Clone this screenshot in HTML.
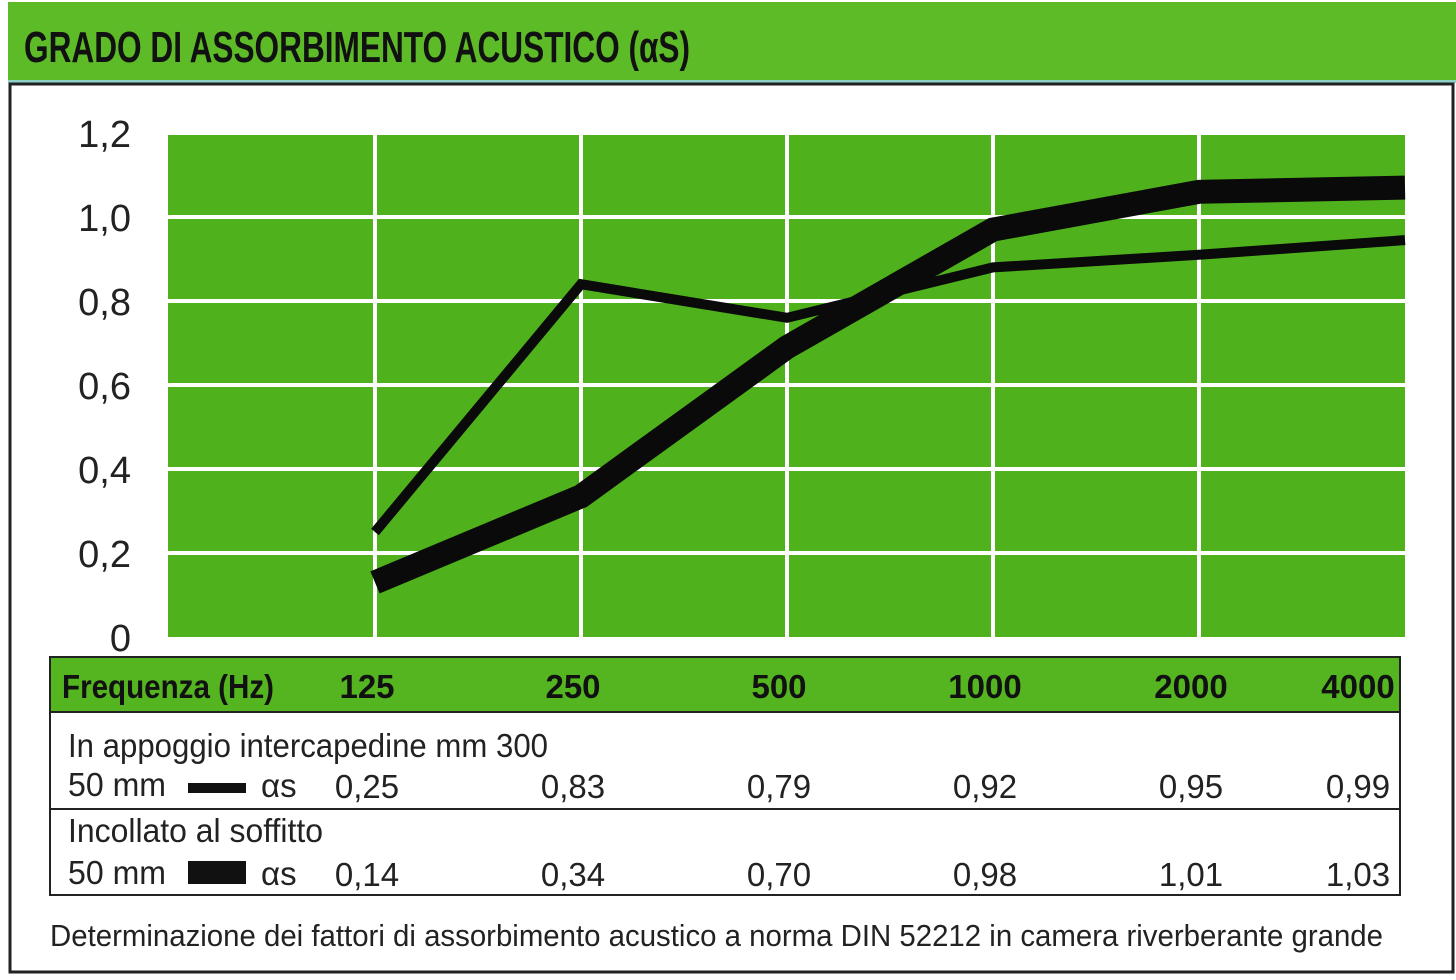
<!DOCTYPE html>
<html><head><meta charset="utf-8"><style>
html,body{margin:0;padding:0;background:#fff;}
svg{display:block;}
text{font-family:"Liberation Sans",sans-serif;}
</style></head><body>
<svg id="chart" width="1456" height="980" viewBox="0 0 1456 980">
  <rect x="0" y="0" width="1456" height="980" fill="#fff"/>
  <rect x="8" y="2" width="1448" height="80" fill="#5ebb28"/>
  <rect x="8" y="80" width="1448" height="3" fill="#8fd0c8"/>
  <text x="24" y="62" font-size="44" font-weight="bold" fill="#111" textLength="666" lengthAdjust="spacingAndGlyphs">GRADO DI ASSORBIMENTO ACUSTICO (αS)</text>
  <rect x="10" y="84" width="1443" height="888" fill="none" stroke="#222" stroke-width="3"/>
  <rect x="168" y="133" width="1237" height="504" fill="#4fb21c"/>
  <g id="grid"></g>
  <g id="yticks"></g>
  <g id="series"></g>

  <rect x="50" y="657" width="1350" height="238" fill="#fff" stroke="#222" stroke-width="2"/>
  <rect x="51" y="658" width="1348" height="54" fill="#55b520"/>
  <line x1="50" y1="712" x2="1400" y2="712" stroke="#222" stroke-width="2"/>
  <line x1="50" y1="809" x2="1400" y2="809" stroke="#222" stroke-width="2"/>
  <text x="62" y="698" font-size="33" font-weight="bold" fill="#111" textLength="212" lengthAdjust="spacingAndGlyphs">Frequenza (Hz)</text>
  <g id="freqs"></g>
  <text x="68" y="757" font-size="33" fill="#222" textLength="480" lengthAdjust="spacingAndGlyphs">In appoggio intercapedine mm 300</text>
  <text x="68" y="796" font-size="33" fill="#222" textLength="98" lengthAdjust="spacingAndGlyphs">50 mm</text>
  <rect x="188" y="783" width="58" height="10" fill="#111"/>
  <text x="261" y="797" font-size="33" fill="#222">αs</text>
  <text x="68" y="842" font-size="33" fill="#222" textLength="255" lengthAdjust="spacingAndGlyphs">Incollato al soffitto</text>
  <text x="68" y="884" font-size="33" fill="#222" textLength="98" lengthAdjust="spacingAndGlyphs">50 mm</text>
  <rect x="188" y="861" width="58" height="23" fill="#111"/>
  <text x="261" y="885" font-size="33" fill="#222">αs</text>
  <g id="vals"></g>
  <text x="50" y="946" font-size="31" fill="#222" textLength="1333" lengthAdjust="spacingAndGlyphs">Determinazione dei fattori di assorbimento acustico a norma DIN 52212 in camera riverberante grande</text>
</svg>
<script>
const categories = ["125","250","500","1000","2000","4000"];
const thinSeries = [0.25, 0.84, 0.76, 0.88, 0.91, 0.945];
const thickSeries = [0.13, 0.335, 0.69, 0.97, 1.06, 1.07];
const thinLabels = ["0,25","0,83","0,79","0,92","0,95","0,99"];
const thickLabels = ["0,14","0,34","0,70","0,98","1,01","1,03"];
const yTicks = [0, 0.2, 0.4, 0.6, 0.8, 1.0, 1.2];
const yTickLabels = ["0","0,2","0,4","0,6","0,8","1,0","1,2"];

const NS = "http://www.w3.org/2000/svg";
const x = i => 375 + i * 206;
const y = v => 637 - v * (504 / 1.2);
function mk(tag, attrs, parent) {
  const e = document.createElementNS(NS, tag);
  for (const k in attrs) e.setAttribute(k, attrs[k]);
  parent.appendChild(e);
  return e;
}
const grid = document.getElementById('grid');
yTicks.forEach((t, i) => {
  if (t > 0) {
    const l = mk('rect', {x: 168, y: y(t) - 2, width: 1237, height: 4, fill: '#ffffff'}, grid);
    
    
  }
  const tx = mk('text', {x: 131, y: y(t) + 14, 'font-size': 38, fill: '#222', 'text-anchor': 'end'}, document.getElementById('yticks'));
  tx.textContent = yTickLabels[i];
  
  
});
categories.forEach((c, i) => {
  if (i < categories.length - 1) {
    const l = mk('rect', {x: x(i) - 2, y: 133, width: 4, height: 504, fill: '#ffffff'}, grid);
    
    
  }
  const cx = i === categories.length - 1 ? 1358 : x(i) - 8;
  const f = mk('text', {x: cx, y: 698, 'font-size': 33, 'font-weight': 'bold', fill: '#111', 'text-anchor': 'middle'}, document.getElementById('freqs'));
  f.textContent = c;
  
  
  const vx = i === categories.length - 1 ? 1358 : x(i) - 8;
  const a = mk('text', {x: vx, y: 798, 'font-size': 33, fill: '#222', 'text-anchor': 'middle'}, document.getElementById('vals'));
  a.textContent = thinLabels[i];
  
  
  const b = mk('text', {x: vx, y: 886, 'font-size': 33, fill: '#222', 'text-anchor': 'middle'}, document.getElementById('vals'));
  b.textContent = thickLabels[i];
  
  
});
const series = document.getElementById('series');
const p1 = mk('polyline', {points: thickSeries.map((v, i) => x(i) + ',' + y(v)).join(' '), fill: 'none', stroke: '#0a0a0a', 'stroke-width': 24, 'stroke-linejoin': 'miter'}, series);


const p2 = mk('polyline', {points: thinSeries.map((v, i) => x(i) + ',' + y(v)).join(' '), fill: 'none', stroke: '#0a0a0a', 'stroke-width': 10, 'stroke-linejoin': 'miter'}, series);


</script>
</body></html>
